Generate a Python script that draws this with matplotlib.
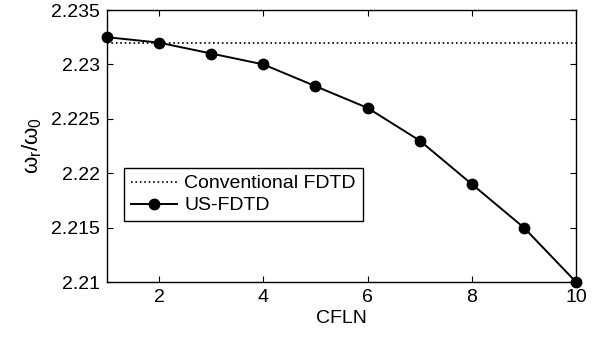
import matplotlib.pyplot as plt

plt.rcParams['font.family'] = ['Liberation Sans', 'DejaVu Sans']
plt.rcParams['mathtext.fontset'] = 'custom'
plt.rcParams['mathtext.rm'] = 'Liberation Sans'
plt.rcParams['mathtext.it'] = 'Liberation Sans'

cfln = [1, 2, 3, 4, 5, 6, 7, 8, 9, 10]
us_fdtd = [2.2325, 2.232, 2.231, 2.230, 2.228, 2.226, 2.223, 2.219, 2.215, 2.210]
conventional = 2.232
xticks = [2, 4, 6, 8, 10]
yticks = [2.21, 2.215, 2.22, 2.225, 2.23, 2.235]
ytick_labels = ['2.21', '2.215', '2.22', '2.225', '2.23', '2.235']

fig = plt.figure(figsize=(6.03, 3.37), dpi=100)
ax = fig.add_axes([107 / 603, 1 - 282 / 337, (576 - 107) / 603, (282 - 10) / 337])

ax.plot([cfln[0], cfln[-1]], [conventional, conventional], color='black', linestyle=':',
        linewidth=1.2, label='Conventional FDTD')
ax.plot(cfln, us_fdtd, color='black', linestyle='-', linewidth=1.4, marker='o',
        markersize=7.5, label='US-FDTD', clip_on=False, zorder=5)

ax.set_xlim(1, 10)
ax.set_ylim(2.21, 2.235)
ax.set_xticks(xticks)
ax.set_yticks(yticks)
ax.set_yticklabels(ytick_labels)
ax.tick_params(direction='in', top=True, right=True, length=4, width=0.8,
               labelsize=14, pad=5)
for s in ax.spines.values():
    s.set_linewidth(1.0)

ax.set_xlabel('CFLN', fontsize=14, labelpad=3)
ax.set_ylabel(r'$\omega_r/\omega_0$', fontsize=16, labelpad=5)

leg = ax.legend(loc='upper left', bbox_to_anchor=(124 / 603, 1 - 168 / 337),
                bbox_transform=fig.transFigure, borderaxespad=0, fontsize=14,
                fancybox=False, framealpha=1, edgecolor='black', handlelength=2.4,
                handletextpad=0.35, labelspacing=0.22, borderpad=0.35)
leg.get_frame().set_linewidth(1.0)

fig.savefig('out.png', dpi=100)
